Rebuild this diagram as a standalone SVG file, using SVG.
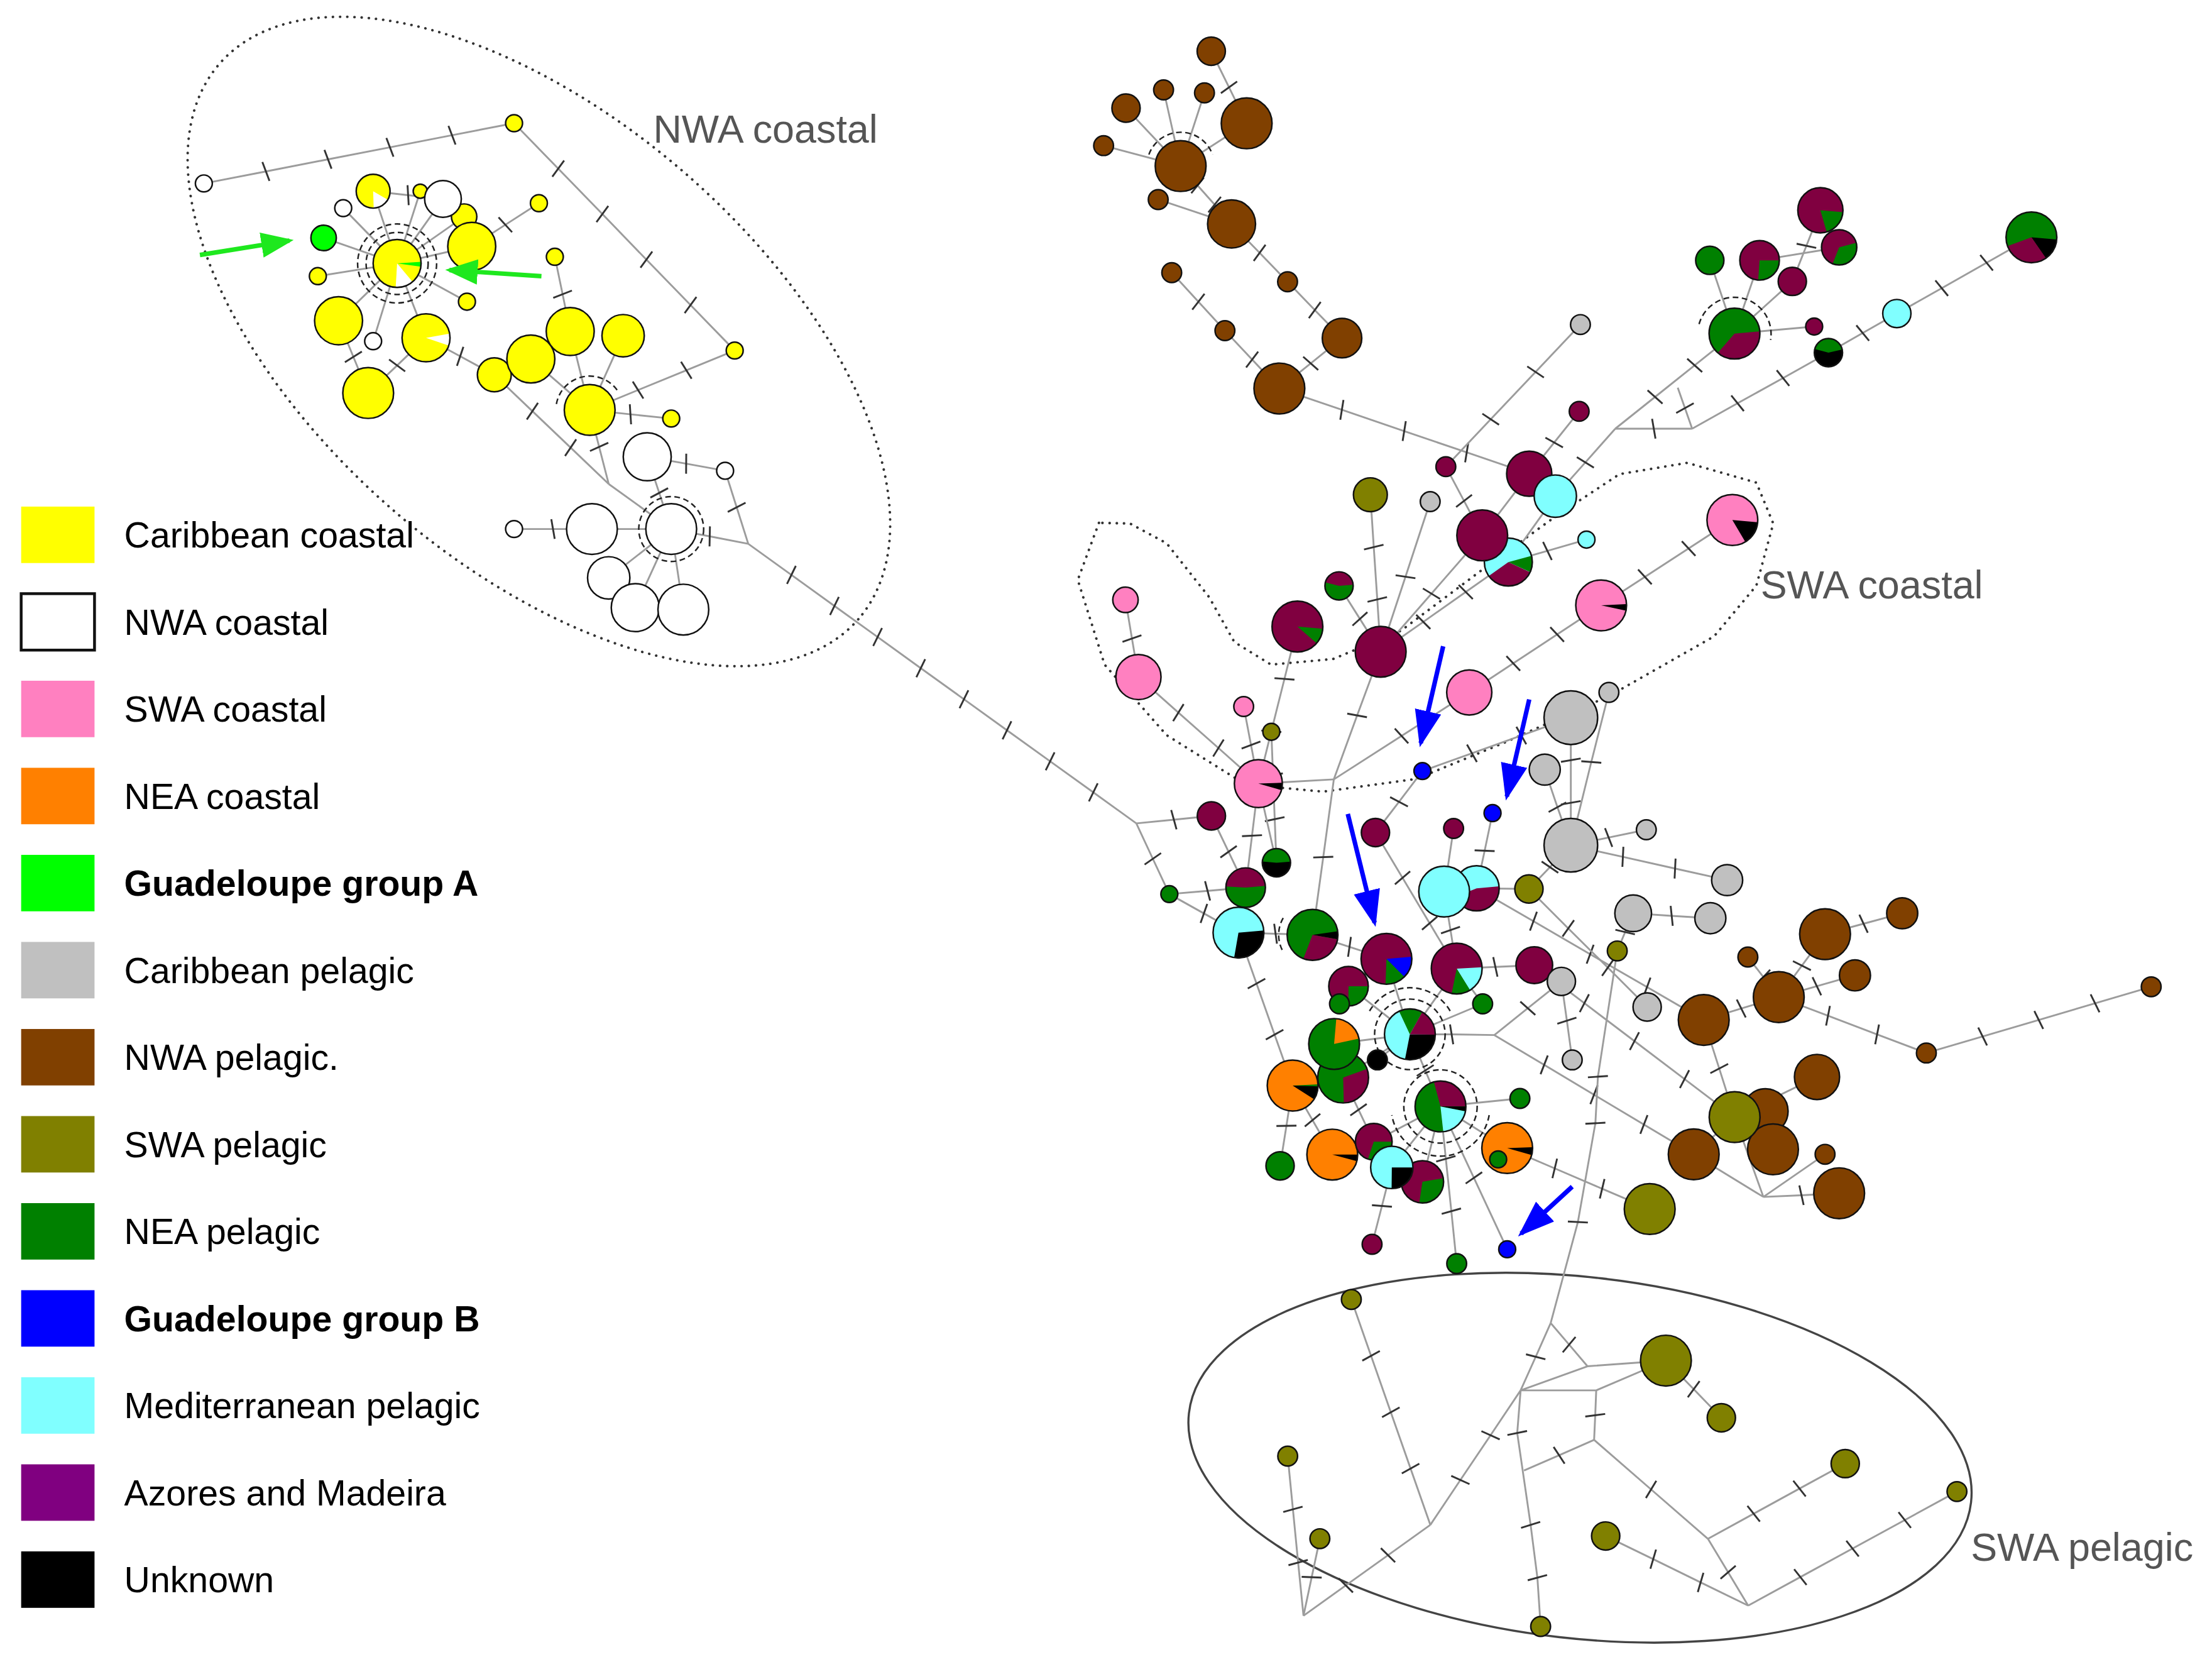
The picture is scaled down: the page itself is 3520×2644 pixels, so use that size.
<svg xmlns="http://www.w3.org/2000/svg" width="3520" height="2644" viewBox="0 0 3520 2644">
<style>
.e{fill:none;stroke:#9c9c9c;stroke-width:1.3;marker-mid:url(#tk)}
.e0{fill:none;stroke:#9c9c9c;stroke-width:1.3}
.n{stroke:#111;stroke-width:1.1}
.o{fill:none;stroke:#111;stroke-width:1.1}
.w{fill:none}
.ring{fill:none;stroke:#222;stroke-width:1.1;stroke-dasharray:4 2.5}
.reg{fill:none;stroke:#333;stroke-width:1.8;stroke-linecap:round;stroke-dasharray:0.1 5}
.Y{fill:#ffff00}.W{fill:#ffffff}.P{fill:#ff80c0}.O{fill:#ff8000}.A{fill:#00ff00}.C{fill:#c0c0c0}.B{fill:#804000}.L{fill:#808000}.G{fill:#008000}.U{fill:#0000ff}.T{fill:#80ffff}.M{fill:#800040}.K{fill:#000000}.AM{fill:#800080}
.sY{stroke:#ffff00}.sW{stroke:#ffffff}.sP{stroke:#ff80c0}.sO{stroke:#ff8000}.sA{stroke:#00ff00}.sG{stroke:#008000}.sU{stroke:#0000ff}.sT{stroke:#80ffff}.sM{stroke:#800040}.sK{stroke:#000000}
.lab{font-family:"Liberation Sans",Arial,sans-serif;font-size:25.5px;fill:#000}
.bold{font-weight:bold}
.rl{font-family:"Liberation Sans",Arial,sans-serif;font-size:28px;fill:#555}
.ga{fill:none;stroke:#1ee81e;stroke-width:3.2;marker-end:url(#ag)}
.ba{fill:none;stroke:#0000ff;stroke-width:3.2;marker-end:url(#ab)}
</style>
<defs>
<marker id="tk" markerUnits="userSpaceOnUse" orient="auto" markerWidth="16" markerHeight="16" viewBox="-8 -8 16 16" refX="0" refY="0"><line x1="-1.2" y1="-7" x2="1.2" y2="7" stroke="#333" stroke-width="1.3"/></marker>
<marker id="ag" markerUnits="userSpaceOnUse" orient="auto" markerWidth="30" markerHeight="24" viewBox="0 -12 30 24" refX="20" refY="0"><path d="M0,-9 L23,0 L0,9Z" fill="#1ee81e"/></marker>
<marker id="ab" markerUnits="userSpaceOnUse" orient="auto" markerWidth="30" markerHeight="24" viewBox="0 -12 30 24" refX="23" refY="0"><path d="M0,-9.5 L26,0 L0,9.5Z" fill="#0000ff"/></marker>
</defs>
<rect width="3520" height="2644" fill="#ffffff"/>
<g transform="scale(2.2449)">

<g id="regions">
<ellipse id="reg-nwa-coastal" class="reg" cx="382" cy="242" rx="300" ry="158" transform="rotate(41 382 242)"/>
<path id="reg-swa-coastal" class="reg" d="M779,370.5 L764,411 L783,471 L827,521 L883,556 L938,561 L1004,552 L1067,526 L1141,493 L1215,451 L1245,415 L1257,371 L1245,342 L1196,328 L1148,336 L1104,365 L1049,405 L993,447 L945,467 L901,471 L875,455 L857,423 L827,385 L801,371 Z"/>
<ellipse id="reg-swa-pelagic" cx="1120" cy="1033" rx="279" ry="128" transform="rotate(6.5 1120 1033)" fill="none" stroke="#444" stroke-width="1.5"/>
<text class="rl" x="463" y="101">NWA coastal</text>
<text class="rl" x="1248" y="424">SWA coastal</text>
<text class="rl" x="1397" y="1106">SWA pelagic</text>
</g>

<g id="connectors">
<path class="e" d="M144.5,130 L188.5,121.5 L232.5,112.9 L276.4,104.4 L320.4,95.8 L364.4,87.3"/>
<path class="e" d="M364.4,87.3 L395.7,119.5 L427,151.7 L458.2,184 L489.5,216.2 L520.8,248.4"/>
<path class="e" d="M520.8,248.4 L486.5,262.4 L452.3,276.4 L418,290.5"/>
<path class="e" d="M418,290.5 L446.9,293.6 L475.8,296.6"/>
<path class="e0" d="M418,290.5 L404.2,234.9 M418,290.5 L441.7,237.9 M418,290.5 L376.3,254.4"/>
<path class="e" d="M418,290.5 L424.7,316.7 L431.5,343"/>
<path class="e" d="M350.4,265.6 L326.2,252.5 L302,239.4"/>
<path class="e" d="M350.4,265.6 L377.4,291.4 L404.5,317.2 L431.5,343"/>
<path class="e0" d="M431.5,343 L475.8,374.9"/>
<path class="e" d="M458.8,323.7 L467.3,349.3 L475.8,374.9"/>
<path class="e" d="M458.8,323.7 L486.4,328.6 L514,333.6"/>
<path class="e" d="M514,333.6 L522.2,359.5 L530.4,385.4"/>
<path class="e" d="M475.8,374.9 L503.1,380.1 L530.4,385.4"/>
<path class="e0" d="M419.6,374.9 L475.8,374.9"/>
<path class="e" d="M364.4,374.9 L392,374.9 L419.6,374.9"/>
<path class="e0" d="M431.5,409.5 L475.8,374.9 M450.3,430.6 L475.8,374.9 M484.4,432 L475.8,374.9"/>
<path class="e" d="M530.4,385.4 L561,407.4 L591.5,429.4 L622.1,451.4 L652.7,473.5 L683.3,495.5 L713.8,517.5 L744.4,539.5 L775,561.5 L805.5,583.5"/>
<path class="e0" d="M281.5,186.7 L229.4,168.6 M281.5,186.7 L243.3,147.5 M281.5,186.7 L264.5,135.5 M281.5,186.7 L297.9,135.5 M281.5,186.7 L314,141 M281.5,186.7 L329,153.5 M281.5,186.7 L334.4,174.6 M281.5,186.7 L225.3,195.7 M281.5,186.7 L331,213.8 M281.5,186.7 L240,227.3 M281.5,186.7 L302,239.4 M281.5,186.7 L264.5,241.8"/>
<path class="e" d="M264.5,135.5 L289.3,138.3 L314,141"/>
<path class="e" d="M382,144 L358.2,159.3 L334.4,174.6"/>
<path class="e" d="M393.3,182 L398.8,208.5 L404.2,234.9"/>
<path class="e" d="M240,227.3 L250.5,252.9 L261,278.5"/>
<path class="e" d="M302,239.4 L281.5,259 L261,278.5"/>

<path class="e" d="M858.6,36.3 L871.2,61.9 L883.7,87.4"/>
<path class="e0" d="M836.9,117.7 L824.8,63.7 M836.9,117.7 L853.8,65.8 M836.9,117.7 L798.2,76.6 M836.9,117.7 L782.3,103.2 M836.9,117.7 L883.7,87.4"/>
<path class="e" d="M836.9,117.7 L848.9,131.4 L861,145 L873,158.7"/>
<path class="e0" d="M821,141.4 L873,158.7"/>
<path class="e" d="M873,158.7 L892.9,179.2 L912.7,199.7"/>
<path class="e" d="M912.7,199.7 L932,219.7 L951.3,239.6"/>
<path class="e" d="M830.6,193.2 L849.5,213.8 L868.3,234.3"/>
<path class="e" d="M868.3,234.3 L887.6,254.8 L906.9,275.3"/>
<path class="e" d="M951.3,239.6 L929.1,257.5 L906.9,275.3"/>
<path class="e" d="M906.9,275.3 L951.2,290.4 L995.4,305.5 L1039.7,320.6 L1084,335.7"/>

<path class="e0" d="M1229.5,236.4 L1212,184.5 M1229.5,236.4 L1247.3,184.5 M1229.5,236.4 L1270.5,199.4 M1229.5,236.4 L1286,231.4"/>
<path class="e" d="M1270.5,199.4 L1280.5,174.2 L1290.4,149"/>
<path class="e0" d="M1247.3,184.5 L1303.7,175.3"/>
<path class="e" d="M1229.5,236.4 L1201.3,258.9 L1173.2,281.3 L1145,303.8"/>
<path class="e" d="M1296.1,249.9 L1263.9,267.9 L1231.7,285.8 L1199.5,303.8"/>
<path class="e" d="M1145,303.8 L1172.3,303.8 L1199.5,303.8"/>
<path class="e" d="M1199.5,303.8 L1194.4,289.2 L1189.3,274.7"/>
<path class="e" d="M1296.1,249.9 L1320.4,236 L1344.6,222.2"/>
<path class="e" d="M1344.6,222.2 L1376.4,204.2 L1408.2,186.2 L1440,168.2"/>
<path class="e" d="M1145,303.8 L1123.8,327.7 L1102.5,351.6"/>

<path class="e" d="M1120.3,230 L1088.5,263.6 L1056.7,297.1 L1024.9,330.7"/>
<path class="e" d="M1119.4,291.5 L1101.7,313.6 L1084,335.7"/>
<path class="e" d="M1024.9,330.7 L1037.8,355 L1050.7,379.4"/>
<path class="e0" d="M1084,335.7 L1050.7,379.4"/>
<path class="e" d="M1050.7,379.4 L1014.7,420.7 L978.7,461.9"/>
<path class="e0" d="M1102.5,351.6 L1069.2,398.3"/>
<path class="e" d="M1069.2,398.3 L1096.9,390.4 L1124.6,382.4"/>
<path class="e" d="M1069.2,398.3 L1039,419.5 L1008.9,440.7 L978.7,461.9"/>
<path class="e" d="M971.4,350.6 L973.8,387.7 L976.3,424.8 L978.7,461.9"/>
<path class="e" d="M1013.8,355.5 L996.3,408.7 L978.7,461.9"/>
<path class="e" d="M949.2,415.2 L964,438.6 L978.7,461.9"/>
<path class="e" d="M919.7,444 L910.5,481.1 L901.2,518.2 L892,555.3"/>
<path class="e" d="M978.7,461.9 L962,507 L945.5,552.3"/>
<path class="e" d="M945.5,552.3 L938,607.4 L930.4,662.5"/>
<path class="e" d="M797.8,425.1 L802.4,452.5 L807,479.8"/>
<path class="e" d="M807,479.8 L835.3,505 L863.7,530.1 L892,555.3"/>
<path class="e" d="M881.6,500.7 L886.8,528 L892,555.3"/>
<path class="e" d="M901.2,518.6 L902.4,549.5 L903.6,580.5 L904.8,611.4"/>
<path class="e0" d="M892,555.3 L945.5,552.3"/>
<path class="e" d="M945.5,552.3 L993.5,521.5 L1041.5,490.7"/>
<path class="e" d="M1041.5,490.7 L1072.7,470.1 L1103.8,449.6 L1135,429"/>
<path class="e" d="M1135,429 L1166,408.8 L1197,388.7 L1228,368.5"/>
<path class="e" d="M1008.3,546.4 L1043.4,533.8 L1078.4,521.2 L1113.5,508.6"/>
<path class="e" d="M1008.3,546.4 L991.7,568.2 L975,590"/>
<path class="e" d="M892,555.3 L887.5,592.2 L883,629"/>
<path class="e0" d="M892,555.3 L904.8,611.4"/>
<path class="e" d="M858.7,578.2 L832.1,580.9 L805.5,583.5"/>
<path class="e" d="M805.5,583.5 L817.2,608.6 L828.9,633.6"/>
<path class="e" d="M828.9,633.6 L856,631.3 L883,629"/>
<path class="e" d="M828.9,633.6 L853.4,647.3 L877.9,660.9"/>
<path class="e" d="M858.7,578.2 L870.9,603.6 L883,629"/>
<path class="e" d="M877.9,660.9 L904.2,661.7 L930.4,662.5"/>
<path class="e" d="M877.9,660.9 L890.7,697 L903.5,733.2 L916.3,769.3"/>
<path class="e" d="M916.3,769.3 L911.9,797.8 L907.4,826.2"/>
<path class="e" d="M1113.5,508.6 L1113.5,538.7 L1113.5,568.9 L1113.5,599"/>
<path class="e" d="M1140.5,490.7 L1128,540 L1113.5,599"/>
<path class="e" d="M1095,545.4 L1104,572 L1113.5,599"/>
<path class="e" d="M1058,576.2 L1052.4,602.9 L1046.7,629.5"/>
<path class="e0" d="M1030.4,587.1 L1023.7,631.8"/>
<path class="e" d="M975,590 L994.2,622.1 L1013.4,654.3 L1032.6,686.4"/>
<path class="e" d="M1113.5,599 L1140.3,593.5 L1167,588"/>
<path class="e" d="M1113.5,599 L1150.4,607.2 L1187.4,615.5 L1224.3,623.7"/>
<path class="e" d="M1113.5,599 L1098.7,614.5 L1083.8,630"/>
<path class="e" d="M1157.7,647.2 L1185,649 L1212.4,650.7"/>
<path class="e" d="M1157.7,647.2 L1152,660.5 L1146.4,673.9"/>
<path class="e" d="M1023.7,631.8 L1028.2,659.1 L1032.6,686.4"/>
<path class="e0" d="M1046.7,629.5 L1083.8,630"/>
<path class="e" d="M1046.7,629.5 L1087,652.8 L1127.2,676.2 L1167.5,699.5 L1207.7,722.8"/>
<path class="e" d="M1087.6,684 L1123.1,710.9 L1158.6,737.8 L1194.1,764.7 L1229.6,791.6"/>
<path class="e" d="M1059.3,733.5 L1094.6,754.6 L1129.9,775.8 L1165.3,796.9 L1200.6,818"/>
<path class="e" d="M999.4,733 L1029,733 L1059.3,733.5"/>
<path class="e" d="M1059.3,733.5 L1083,714.5 L1106.8,695.5"/>
<path class="e" d="M1083.8,630 L1111.7,657.9 L1139.7,685.7 L1167.6,713.6"/>
<path class="e" d="M1032.6,686.4 L1060,685.2 L1087.6,684"/>
<path class="e0" d="M1087.6,684 L1106.8,695.5"/>
<path class="e" d="M1106.8,695.5 L1110.7,723.3 L1114.5,751.1"/>
<path class="e" d="M1146.4,673.9 L1132.7,763 L1130.9,796 L1118.5,866 L1099.2,937.6"/>
<path class="e" d="M1068.4,813.6 L1102.1,828 L1135.7,842.4 L1169.4,856.8"/>

<path class="e" d="M1207.7,722.8 L1218.7,757.2 L1229.6,791.6"/>
<path class="e" d="M1207.7,722.8 L1234.3,714.7 L1260.9,706.6"/>
<path class="e" d="M1260.9,706.6 L1250,692.4 L1239,678.2"/>
<path class="e" d="M1260.9,706.6 L1277.3,684.3 L1293.7,662"/>
<path class="e" d="M1293.7,662 L1321,654.6 L1348.4,647.2"/>
<path class="e" d="M1260.9,706.6 L1287.9,698.9 L1314.9,691.2"/>
<path class="e" d="M1260.9,706.6 L1295.8,719.8 L1330.6,733 L1365.5,746.2"/>
<path class="e" d="M1365.5,746.2 L1405.4,734.5 L1445.2,722.8 L1485.1,711 L1524.9,699.3"/>
<path class="e" d="M1288,763.2 L1258.8,777.4 L1229.6,791.6"/>
<path class="e0" d="M1229.6,791.6 L1256.8,814.5 M1229.6,791.6 L1200.6,818 M1229.6,791.6 L1250,848.2 M1200.6,818 L1250,848.2 M1250,848.2 L1293.7,818"/>
<path class="e" d="M1250,848.2 L1277,847 L1303.7,845.6"/>

<path class="e" d="M930.4,662.5 L956.6,671 L982.8,679.5"/>
<path class="e0" d="M982.8,679.5 L999.4,733 M955.9,698.9 L999.4,733 M1032.6,686.4 L999.4,733 M945.7,739.8 L999.4,733 M976.4,751.1 L999.4,733 M952.1,763.6 L999.4,733 M1051,711.4 L999.4,733 M1051,711.4 L1032.6,686.4 M982.8,679.5 L955.9,698.9"/>
<path class="e" d="M999.4,733 L1010.3,758.6 L1021.1,784.1"/>
<path class="e" d="M952.1,763.6 L963,786.4 L973.8,809.1"/>
<path class="e" d="M916.3,769.3 L930.4,793.8 L944.4,818.2"/>
<path class="e0" d="M1021.1,784.1 L1068.4,813.6 M1021.1,784.1 L1077.4,778.4 M1021.1,784.1 L1008.3,837.5 M1021.1,784.1 L986.6,827.3 M1021.1,784.1 L973.8,809.1 M944.4,818.2 L973.8,809.1"/>
<path class="e" d="M1021.1,784.1 L1024.9,821.2 L1028.8,858.3 L1032.6,895.5"/>
<path class="e" d="M1021.1,784.1 L1044.8,834.7 L1068.4,885.3"/>
<path class="e" d="M986.6,827.3 L979.6,854.6 L972.6,881.8"/>

<path class="e" d="M1099.2,937.6 L1088.6,961.5 L1077.9,985.3"/>
<path class="e" d="M1099.2,937.6 L1112.3,952.9 L1125.3,968.2"/>
<path class="e0" d="M1125.3,968.2 L1180.9,964.2 M1077.9,985.3 L1125.3,968.2 M1077.9,985.3 L1131.5,985.3 M1131.5,985.3 L1180.9,964.2"/>
<path class="e" d="M1180.9,964.2 L1200.6,984.5 L1220.2,1004.7"/>
<path class="e" d="M1077.9,985.3 L1075.5,1015.5 L1085,1080.6 L1089.8,1118 L1092.1,1152.6"/>
<path class="e" d="M1077.9,985.3 L1056.6,1017.1 L1035.2,1048.8 L1013.9,1080.6"/>
<path class="e" d="M1013.9,1080.6 L983.9,1102.1 L954,1123.5 L924,1145"/>
<path class="e" d="M957.9,920.9 L971.9,960.8 L985.9,1000.8 L999.9,1040.7 L1013.9,1080.6"/>
<path class="e" d="M912.8,1031.9 L916.5,1069.6 L920.2,1107.3 L924,1145"/>
<path class="e" d="M935.6,1090.4 L929.8,1117.7 L924,1145"/>
<path class="e" d="M1131.5,985.3 L1130.8,1002.9 L1130,1020.4"/>
<path class="e" d="M1130,1020.4 L1105.2,1031.3 L1080.3,1042.1"/>
<path class="e" d="M1130,1020.4 L1170.4,1055.5 L1210.7,1090.5"/>
<path class="e" d="M1210.7,1090.5 L1243.1,1072.7 L1275.6,1054.9 L1308,1037.2"/>
<path class="e" d="M1210.7,1090.5 L1225,1114.2 L1239.2,1137.8"/>
<path class="e" d="M1239.2,1137.8 L1276.2,1117.6 L1313.2,1097.4 L1350.2,1077.2 L1387.2,1057"/>
<path class="e" d="M1138.2,1088.5 L1171.9,1104.9 L1205.5,1121.4 L1239.2,1137.8"/>
</g>

<g id="rings">
<circle class="ring" cx="281.5" cy="186.7" r="22"/>
<circle class="ring" cx="281.5" cy="186.7" r="28"/>
<path class="ring" d="M394.4,286.3 A24,24 0 0 1 438.8,278.5"/>
<circle class="ring" cx="475.8" cy="374.9" r="23"/>
<path class="ring" d="M814.4,109.5 A24,24 0 0 1 859.5,109.5"/>
<path class="ring" d="M1204.4,229.7 A26,26 0 0 1 1255.1,240.9"/>
<circle class="ring" cx="999.4" cy="733" r="25"/>
<path class="ring" d="M970.8,716.5 A33,33 0 0 1 1028,716.5"/>
<circle class="ring" cx="1021.1" cy="784.1" r="26"/>
<path class="ring" d="M1055.6,790.2 A35,35 0 0 1 986.6,790.2"/>
<path class="ring" d="M909.6,650.5 A24,24 0 0 0 909.6,674.5"/>
</g>

<g id="nodes">
<g id="n1"><circle class="n W" cx="144.5" cy="130" r="6"/></g>
<g id="n2"><circle class="n Y" cx="364.4" cy="87.3" r="6"/></g>
<g id="n3"><circle class="n Y" cx="520.8" cy="248.4" r="6"/></g>
<g id="n10"><circle class="n W" cx="243.3" cy="147.5" r="6"/></g>
<g id="n11"><circle class="n A" cx="229.4" cy="168.6" r="9"/></g>
<g id="n12"><circle class="n Y" cx="225.3" cy="195.7" r="6"/></g>
<g id="n5"><circle class="Y" cx="264.5" cy="135.5" r="12"/><circle class="w sW" cx="264.5" cy="135.5" r="6" stroke-width="12" stroke-dasharray="6.03 999" transform="rotate(30 264.5 135.5)"/><circle class="o" cx="264.5" cy="135.5" r="12"/></g>
<g id="n6"><circle class="n Y" cx="297.9" cy="135.5" r="5"/></g>
<g id="n8"><circle class="n Y" cx="329" cy="153.5" r="9"/></g>
<g id="n7"><circle class="n W" cx="314" cy="141" r="13"/></g>
<g id="n9"><circle class="n Y" cx="334.4" cy="174.6" r="17"/></g>
<g id="n13"><circle class="n Y" cx="331" cy="213.8" r="6"/></g>
<g id="n14"><circle class="n Y" cx="382" cy="144" r="6"/></g>
<g id="n15"><circle class="n Y" cx="393.3" cy="182" r="6"/></g>
<g id="n4"><circle class="Y" cx="281.5" cy="186.7" r="17"/><circle class="w sA" cx="281.5" cy="186.7" r="8.5" stroke-width="17" stroke-dasharray="1.8 999" transform="rotate(-4 281.5 186.7)"/><circle class="w sW" cx="281.5" cy="186.7" r="8.5" stroke-width="17" stroke-dasharray="6.41 999" transform="rotate(50 281.5 186.7)"/><circle class="o" cx="281.5" cy="186.7" r="17"/></g>
<g id="n16"><circle class="n Y" cx="240" cy="227.3" r="17"/></g>
<g id="n17"><circle class="n W" cx="264.5" cy="241.8" r="6"/></g>
<g id="n18"><circle class="Y" cx="302" cy="239.4" r="17"/><circle class="w sW" cx="302" cy="239.4" r="8.5" stroke-width="17" stroke-dasharray="4.27 999" transform="rotate(-10 302 239.4)"/><circle class="o" cx="302" cy="239.4" r="17"/></g>
<g id="n19"><circle class="n Y" cx="261" cy="278.5" r="18"/></g>
<g id="n20"><circle class="n Y" cx="350.4" cy="265.6" r="12"/></g>
<g id="n21"><circle class="n Y" cx="376.3" cy="254.4" r="17"/></g>
<g id="n22"><circle class="n Y" cx="404.2" cy="234.9" r="17"/></g>
<g id="n23"><circle class="n Y" cx="441.7" cy="237.9" r="15"/></g>
<g id="n24"><circle class="n Y" cx="418" cy="290.5" r="18"/></g>
<g id="n25"><circle class="n Y" cx="475.8" cy="296.6" r="6"/></g>
<g id="n26"><circle class="n W" cx="458.8" cy="323.7" r="17"/></g>
<g id="n27"><circle class="n W" cx="514" cy="333.6" r="6"/></g>
<g id="n29"><circle class="n W" cx="419.6" cy="374.9" r="18"/></g>
<g id="n28"><circle class="n W" cx="475.8" cy="374.9" r="18"/></g>
<g id="n30"><circle class="n W" cx="364.4" cy="374.9" r="6"/></g>
<g id="n31"><circle class="n W" cx="431.5" cy="409.5" r="15"/></g>
<g id="n32"><circle class="n W" cx="450.3" cy="430.6" r="17"/></g>
<g id="n33"><circle class="n W" cx="484.4" cy="432" r="18"/></g>

<g id="b1"><circle class="n B" cx="858.6" cy="36.3" r="10"/></g>
<g id="b2"><circle class="n B" cx="824.8" cy="63.7" r="7"/></g>
<g id="b3"><circle class="n B" cx="853.8" cy="65.8" r="7"/></g>
<g id="b4"><circle class="n B" cx="798.2" cy="76.6" r="10"/></g>
<g id="b5"><circle class="n B" cx="883.7" cy="87.4" r="18"/></g>
<g id="b6"><circle class="n B" cx="782.3" cy="103.2" r="7"/></g>
<g id="b7"><circle class="n B" cx="836.9" cy="117.7" r="18"/></g>
<g id="b8"><circle class="n B" cx="821" cy="141.4" r="7"/></g>
<g id="b9"><circle class="n B" cx="873" cy="158.7" r="17"/></g>
<g id="b10"><circle class="n B" cx="830.6" cy="193.2" r="7"/></g>
<g id="b11"><circle class="n B" cx="912.7" cy="199.7" r="7"/></g>
<g id="b12"><circle class="n B" cx="868.3" cy="234.3" r="7"/></g>
<g id="b13"><circle class="n B" cx="951.3" cy="239.6" r="14"/></g>
<g id="b14"><circle class="n B" cx="906.9" cy="275.3" r="18"/></g>

<g id="t1"><circle class="M" cx="1290.4" cy="149" r="16"/><circle class="w sG" cx="1290.4" cy="149" r="8" stroke-width="16" stroke-dasharray="9.55 999" transform="rotate(5 1290.4 149)"/><circle class="o" cx="1290.4" cy="149" r="16"/></g>
<g id="t2"><circle class="M" cx="1303.7" cy="175.3" r="12.5"/><circle class="w sG" cx="1303.7" cy="175.3" r="6.25" stroke-width="12.5" stroke-dasharray="13.74 999" transform="rotate(-15 1303.7 175.3)"/><circle class="o" cx="1303.7" cy="175.3" r="12.5"/></g>
<g id="t3"><circle class="n G" cx="1212" cy="184.5" r="10"/></g>
<g id="t4"><circle class="M" cx="1247.3" cy="184.5" r="14"/><circle class="w sG" cx="1247.3" cy="184.5" r="7" stroke-width="14" stroke-dasharray="11.44 999" transform="rotate(0 1247.3 184.5)"/><circle class="o" cx="1247.3" cy="184.5" r="14"/></g>
<g id="t5"><circle class="n M" cx="1270.5" cy="199.4" r="10"/></g>
<g id="t6"><circle class="G" cx="1229.5" cy="236.4" r="18"/><circle class="w sM" cx="1229.5" cy="236.4" r="9" stroke-width="18" stroke-dasharray="21.2 999" transform="rotate(-5 1229.5 236.4)"/><circle class="o" cx="1229.5" cy="236.4" r="18"/></g>
<g id="t7"><circle class="n M" cx="1286" cy="231.4" r="6"/></g>
<g id="t8"><circle class="K" cx="1296.1" cy="249.9" r="10"/><circle class="w sG" cx="1296.1" cy="249.9" r="5" stroke-width="10" stroke-dasharray="13.2 999" transform="rotate(195 1296.1 249.9)"/><circle class="o" cx="1296.1" cy="249.9" r="10"/></g>
<g id="t9"><circle class="n T" cx="1344.6" cy="222.2" r="10"/></g>
<g id="t10"><circle class="G" cx="1440" cy="168.2" r="18"/><circle class="w sK" cx="1440" cy="168.2" r="9" stroke-width="18" stroke-dasharray="7.92 999" transform="rotate(5 1440 168.2)"/><circle class="w sM" cx="1440" cy="168.2" r="9" stroke-width="18" stroke-dasharray="16.4 999" transform="rotate(55 1440 168.2)"/><circle class="o" cx="1440" cy="168.2" r="18"/></g>

<g id="g1"><circle class="n C" cx="1120.3" cy="230" r="7"/></g>
<g id="m30"><circle class="n M" cx="1119.4" cy="291.5" r="7"/></g>
<g id="m1"><circle class="n M" cx="1024.9" cy="330.7" r="7"/></g>
<g id="m2"><circle class="n M" cx="1084" cy="335.7" r="16"/></g>
<g id="m3"><circle class="n T" cx="1102.5" cy="351.6" r="15"/></g>
<g id="m4"><circle class="n L" cx="971.4" cy="350.6" r="12"/></g>
<g id="m5"><circle class="n C" cx="1013.8" cy="355.5" r="7"/></g>
<g id="m7"><circle class="T" cx="1069.2" cy="398.3" r="17"/><circle class="w sG" cx="1069.2" cy="398.3" r="8.5" stroke-width="17" stroke-dasharray="5.87 999" transform="rotate(-15 1069.2 398.3)"/><circle class="w sM" cx="1069.2" cy="398.3" r="8.5" stroke-width="17" stroke-dasharray="17.62 999" transform="rotate(25 1069.2 398.3)"/><circle class="o" cx="1069.2" cy="398.3" r="17"/></g>
<g id="m6"><circle class="n M" cx="1050.7" cy="379.4" r="18"/></g>
<g id="m8"><circle class="n T" cx="1124.6" cy="382.4" r="6"/></g>
<g id="m9"><circle class="P" cx="1228" cy="368.5" r="18"/><circle class="w sK" cx="1228" cy="368.5" r="9" stroke-width="18" stroke-dasharray="8.48 999" transform="rotate(5 1228 368.5)"/><circle class="o" cx="1228" cy="368.5" r="18"/></g>
<g id="m10"><circle class="P" cx="1135" cy="429" r="18"/><circle class="w sK" cx="1135" cy="429" r="9" stroke-width="18" stroke-dasharray="2.4 999" transform="rotate(-3 1135 429)"/><circle class="o" cx="1135" cy="429" r="18"/></g>
<g id="m11"><circle class="M" cx="949.2" cy="415.2" r="10"/><circle class="w sG" cx="949.2" cy="415.2" r="5" stroke-width="10" stroke-dasharray="17.28 999" transform="rotate(-5 949.2 415.2)"/><circle class="o" cx="949.2" cy="415.2" r="10"/></g>
<g id="m12"><circle class="M" cx="919.7" cy="444" r="18"/><circle class="w sG" cx="919.7" cy="444" r="9" stroke-width="18" stroke-dasharray="5.65 999" transform="rotate(5 919.7 444)"/><circle class="o" cx="919.7" cy="444" r="18"/></g>
<g id="m13"><circle class="n M" cx="978.7" cy="461.9" r="18"/></g>
<g id="m14"><circle class="n P" cx="1041.5" cy="490.7" r="16"/></g>
<g id="m15"><circle class="n P" cx="797.8" cy="425.1" r="9"/></g>
<g id="m16"><circle class="n P" cx="807" cy="479.8" r="16"/></g>
<g id="m17"><circle class="n P" cx="881.6" cy="500.7" r="7"/></g>
<g id="m18"><circle class="n L" cx="901.2" cy="518.6" r="6"/></g>
<g id="m19"><circle class="P" cx="892" cy="555.3" r="17"/><circle class="w sK" cx="892" cy="555.3" r="8.5" stroke-width="17" stroke-dasharray="2.67 999" transform="rotate(-2 892 555.3)"/><circle class="o" cx="892" cy="555.3" r="17"/></g>
<g id="m20"><circle class="n U" cx="1008.3" cy="546.4" r="6"/></g>
<g id="m21"><circle class="n C" cx="1113.5" cy="508.6" r="19"/></g>
<g id="m22"><circle class="n C" cx="1140.5" cy="490.7" r="7"/></g>
<g id="m23"><circle class="n C" cx="1095" cy="545.4" r="11"/></g>
<g id="m24"><circle class="n U" cx="1058" cy="576.2" r="6"/></g>
<g id="m25"><circle class="n C" cx="1113.5" cy="599" r="19"/></g>
<g id="m26"><circle class="n C" cx="1167" cy="588" r="7"/></g>
<g id="m27"><circle class="n M" cx="858.7" cy="578.2" r="10"/></g>
<g id="m28"><circle class="n M" cx="975" cy="590" r="10"/></g>
<g id="m29"><circle class="n M" cx="1030.4" cy="587.1" r="7"/></g>

<g id="c1"><circle class="K" cx="904.8" cy="611.4" r="10"/><circle class="w sG" cx="904.8" cy="611.4" r="5" stroke-width="10" stroke-dasharray="14.77 999" transform="rotate(185 904.8 611.4)"/><circle class="o" cx="904.8" cy="611.4" r="10"/></g>
<g id="c2"><circle class="M" cx="883" cy="629" r="14"/><circle class="w sG" cx="883" cy="629" r="7" stroke-width="14" stroke-dasharray="22.87 999" transform="rotate(-5 883 629)"/><circle class="o" cx="883" cy="629" r="14"/></g>
<g id="c3"><circle class="n G" cx="828.9" cy="633.6" r="6"/></g>
<g id="c4"><circle class="T" cx="877.9" cy="660.9" r="18"/><circle class="w sK" cx="877.9" cy="660.9" r="9" stroke-width="18" stroke-dasharray="16.4 999" transform="rotate(-5 877.9 660.9)"/><circle class="o" cx="877.9" cy="660.9" r="18"/></g>
<g id="c5"><circle class="G" cx="930.4" cy="662.5" r="18"/><circle class="w sK" cx="930.4" cy="662.5" r="9" stroke-width="18" stroke-dasharray="2.83 999" transform="rotate(-8 930.4 662.5)"/><circle class="w sM" cx="930.4" cy="662.5" r="9" stroke-width="18" stroke-dasharray="15.83 999" transform="rotate(10 930.4 662.5)"/><circle class="o" cx="930.4" cy="662.5" r="18"/></g>
<g id="c7"><circle class="T" cx="1046.7" cy="629.5" r="16"/><circle class="w sM" cx="1046.7" cy="629.5" r="8" stroke-width="16" stroke-dasharray="22.62 999" transform="rotate(-5 1046.7 629.5)"/><circle class="o" cx="1046.7" cy="629.5" r="16"/></g>
<g id="c6"><circle class="n T" cx="1023.7" cy="631.8" r="18"/></g>
<g id="c8"><circle class="n L" cx="1083.8" cy="630" r="10"/></g>
<g id="c9"><circle class="M" cx="982.8" cy="679.5" r="18"/><circle class="w sU" cx="982.8" cy="679.5" r="9" stroke-width="18" stroke-dasharray="7.92 999" transform="rotate(-5 982.8 679.5)"/><circle class="w sG" cx="982.8" cy="679.5" r="9" stroke-width="18" stroke-dasharray="7.35 999" transform="rotate(45 982.8 679.5)"/><circle class="o" cx="982.8" cy="679.5" r="18"/></g>
<g id="c10"><circle class="M" cx="1032.6" cy="686.4" r="18"/><circle class="w sT" cx="1032.6" cy="686.4" r="9" stroke-width="18" stroke-dasharray="9.61 999" transform="rotate(-3 1032.6 686.4)"/><circle class="w sG" cx="1032.6" cy="686.4" r="9" stroke-width="18" stroke-dasharray="6.79 999" transform="rotate(58 1032.6 686.4)"/><circle class="o" cx="1032.6" cy="686.4" r="18"/></g>
<g id="c11"><circle class="n M" cx="1087.6" cy="684" r="13"/></g>
<g id="c12"><circle class="n C" cx="1106.8" cy="695.5" r="10"/></g>
<g id="c13"><circle class="n L" cx="1146.4" cy="673.9" r="7"/></g>
<g id="c14"><circle class="n C" cx="1167.6" cy="713.6" r="10"/></g>
<g id="c15"><circle class="M" cx="955.9" cy="698.9" r="14"/><circle class="w sG" cx="955.9" cy="698.9" r="7" stroke-width="14" stroke-dasharray="11 999" transform="rotate(0 955.9 698.9)"/><circle class="o" cx="955.9" cy="698.9" r="14"/></g>
<g id="c16"><circle class="n G" cx="949.5" cy="711.4" r="7"/></g>
<g id="c17"><circle class="n G" cx="1051" cy="711.4" r="7"/></g>
<g id="c18"><circle class="T" cx="999.4" cy="733" r="18"/><circle class="w sK" cx="999.4" cy="733" r="9" stroke-width="18" stroke-dasharray="15.83 999" transform="rotate(0 999.4 733)"/><circle class="w sG" cx="999.4" cy="733" r="9" stroke-width="18" stroke-dasharray="8.48 999" transform="rotate(245 999.4 733)"/><circle class="w sM" cx="999.4" cy="733" r="9" stroke-width="18" stroke-dasharray="9.61 999" transform="rotate(299 999.4 733)"/><circle class="o" cx="999.4" cy="733" r="18"/></g>
<g id="c21"><circle class="G" cx="952.1" cy="763.6" r="18"/><circle class="w sM" cx="952.1" cy="763.6" r="9" stroke-width="18" stroke-dasharray="16.96 999" transform="rotate(-20 952.1 763.6)"/><circle class="o" cx="952.1" cy="763.6" r="18"/></g>
<g id="c19"><circle class="G" cx="945.7" cy="739.8" r="18"/><circle class="w sO" cx="945.7" cy="739.8" r="9" stroke-width="18" stroke-dasharray="11.31 999" transform="rotate(-85 945.7 739.8)"/><circle class="o" cx="945.7" cy="739.8" r="18"/></g>
<g id="c20"><circle class="n K" cx="976.4" cy="751.1" r="7"/></g>
<g id="c22"><circle class="O" cx="916.3" cy="769.3" r="18"/><circle class="w sK" cx="916.3" cy="769.3" r="9" stroke-width="18" stroke-dasharray="5.09 999" transform="rotate(0 916.3 769.3)"/><circle class="w sG" cx="916.3" cy="769.3" r="9" stroke-width="18" stroke-dasharray="0.8 999" transform="rotate(-3 916.3 769.3)"/><circle class="o" cx="916.3" cy="769.3" r="18"/></g>
<g id="c23"><circle class="n C" cx="1114.5" cy="751.1" r="7"/></g>
<g id="c24"><circle class="G" cx="1021.1" cy="784.1" r="18"/><circle class="w sM" cx="1021.1" cy="784.1" r="9" stroke-width="18" stroke-dasharray="16.4 999" transform="rotate(-105 1021.1 784.1)"/><circle class="w sK" cx="1021.1" cy="784.1" r="9" stroke-width="18" stroke-dasharray="1.7 999" transform="rotate(0 1021.1 784.1)"/><circle class="w sT" cx="1021.1" cy="784.1" r="9" stroke-width="18" stroke-dasharray="11.31 999" transform="rotate(11 1021.1 784.1)"/><circle class="o" cx="1021.1" cy="784.1" r="18"/></g>
<g id="c25"><circle class="n G" cx="1077.4" cy="778.4" r="7"/></g>
<g id="c26"><circle class="O" cx="944.4" cy="818.2" r="18"/><circle class="w sK" cx="944.4" cy="818.2" r="9" stroke-width="18" stroke-dasharray="2.4 999" transform="rotate(0 944.4 818.2)"/><circle class="o" cx="944.4" cy="818.2" r="18"/></g>
<g id="c27"><circle class="n G" cx="907.4" cy="826.2" r="10"/></g>
<g id="c28"><circle class="M" cx="973.8" cy="809.1" r="13"/><circle class="w sG" cx="973.8" cy="809.1" r="6.5" stroke-width="13" stroke-dasharray="12.25 999" transform="rotate(0 973.8 809.1)"/><circle class="o" cx="973.8" cy="809.1" r="13"/></g>
<g id="c30"><circle class="M" cx="1008.3" cy="837.5" r="15"/><circle class="w sG" cx="1008.3" cy="837.5" r="7.5" stroke-width="15" stroke-dasharray="14.14 999" transform="rotate(-10 1008.3 837.5)"/><circle class="o" cx="1008.3" cy="837.5" r="15"/></g>
<g id="c29"><circle class="T" cx="986.6" cy="827.3" r="15"/><circle class="w sK" cx="986.6" cy="827.3" r="7.5" stroke-width="15" stroke-dasharray="11.78 999" transform="rotate(0 986.6 827.3)"/><circle class="o" cx="986.6" cy="827.3" r="15"/></g>
<g id="c31"><circle class="O" cx="1068.4" cy="813.6" r="18"/><circle class="w sK" cx="1068.4" cy="813.6" r="9" stroke-width="18" stroke-dasharray="2.83 999" transform="rotate(-2 1068.4 813.6)"/><circle class="o" cx="1068.4" cy="813.6" r="18"/></g>
<g id="c32"><circle class="n G" cx="1062" cy="821.6" r="6"/></g>
<g id="c33"><circle class="n M" cx="972.6" cy="881.8" r="7"/></g>
<g id="c34"><circle class="n U" cx="1068.4" cy="885.3" r="6"/></g>
<g id="c35"><circle class="n G" cx="1032.6" cy="895.5" r="7"/></g>
<g id="c36"><circle class="n L" cx="1169.4" cy="856.8" r="18"/></g>

<g id="r1"><circle class="n C" cx="1224.3" cy="623.7" r="11"/></g>
<g id="r2"><circle class="n C" cx="1157.7" cy="647.2" r="13"/></g>
<g id="r3"><circle class="n C" cx="1212.4" cy="650.7" r="11"/></g>
<g id="r4"><circle class="n B" cx="1207.7" cy="722.8" r="18"/></g>
<g id="r5"><circle class="n B" cx="1239" cy="678.2" r="7"/></g>
<g id="r6"><circle class="n B" cx="1260.9" cy="706.6" r="18"/></g>
<g id="r7"><circle class="n B" cx="1293.7" cy="662" r="18"/></g>
<g id="r8"><circle class="n B" cx="1348.4" cy="647.2" r="11"/></g>
<g id="r9"><circle class="n B" cx="1314.9" cy="691.2" r="11"/></g>
<g id="r10"><circle class="n B" cx="1365.5" cy="746.2" r="7"/></g>
<g id="r11"><circle class="n B" cx="1524.9" cy="699.3" r="7"/></g>
<g id="r12"><circle class="n B" cx="1288" cy="763.2" r="16"/></g>
<g id="r13"><circle class="n B" cx="1251.5" cy="787.5" r="16"/></g>
<g id="r15"><circle class="n B" cx="1256.8" cy="814.5" r="18"/></g>
<g id="r16"><circle class="n B" cx="1200.6" cy="818" r="18"/></g>
<g id="r14"><circle class="n L" cx="1229.6" cy="791.6" r="18"/></g>
<g id="r17"><circle class="n B" cx="1293.7" cy="818" r="7"/></g>
<g id="r18"><circle class="n B" cx="1303.7" cy="845.6" r="18"/></g>

<g id="s1"><circle class="n L" cx="957.9" cy="920.9" r="7"/></g>
<g id="s2"><circle class="n L" cx="1180.9" cy="964.2" r="18"/></g>
<g id="s3"><circle class="n L" cx="1220.2" cy="1004.7" r="10"/></g>
<g id="s4"><circle class="n L" cx="912.8" cy="1031.9" r="7"/></g>
<g id="s5"><circle class="n L" cx="1308" cy="1037.2" r="10"/></g>
<g id="s6"><circle class="n L" cx="1387.2" cy="1057" r="7"/></g>
<g id="s7"><circle class="n L" cx="935.6" cy="1090.4" r="7"/></g>
<g id="s8"><circle class="n L" cx="1138.2" cy="1088.5" r="10"/></g>
<g id="s9"><circle class="n L" cx="1092.1" cy="1152.6" r="7"/></g>
</g>

<g id="arrows">
<path class="ga" d="M141.7,180.7 L205.2,170.5"/>
<path class="ga" d="M383.8,195.7 L318.6,191.4"/>
<path class="ba" d="M1023,458 L1007.1,526.6"/>
<path class="ba" d="M1084,495.7 L1068.1,564.4"/>
<path class="ba" d="M955.4,576.8 L974.4,653.9"/>
<path class="ba" d="M1114.5,840.9 L1078.3,874.2"/>
</g>

<g id="legend">
<rect class="Y" x="15" y="359" width="52" height="40"/>
<text class="lab" x="88" y="388">Caribbean coastal</text>
<rect class="W" x="15" y="420.7" width="52" height="40" stroke="#111" stroke-width="2"/>
<text class="lab" x="88" y="449.7">NWA coastal</text>
<rect class="P" x="15" y="482.4" width="52" height="40"/>
<text class="lab" x="88" y="511.4">SWA coastal</text>
<rect class="O" x="15" y="544.1" width="52" height="40"/>
<text class="lab" x="88" y="573.1">NEA coastal</text>
<rect class="A" x="15" y="605.8" width="52" height="40"/>
<text class="lab bold" x="88" y="634.8">Guadeloupe group A</text>
<rect class="C" x="15" y="667.5" width="52" height="40"/>
<text class="lab" x="88" y="696.5">Caribbean pelagic</text>
<rect class="B" x="15" y="729.2" width="52" height="40"/>
<text class="lab" x="88" y="758.2">NWA pelagic.</text>
<rect class="L" x="15" y="790.9" width="52" height="40"/>
<text class="lab" x="88" y="819.9">SWA pelagic</text>
<rect class="G" x="15" y="852.6" width="52" height="40"/>
<text class="lab" x="88" y="881.6">NEA pelagic</text>
<rect class="U" x="15" y="914.3" width="52" height="40"/>
<text class="lab bold" x="88" y="943.3">Guadeloupe group B</text>
<rect class="T" x="15" y="976" width="52" height="40"/>
<text class="lab" x="88" y="1005">Mediterranean pelagic</text>
<rect class="AM" x="15" y="1037.7" width="52" height="40"/>
<text class="lab" x="88" y="1066.7">Azores and Madeira</text>
<rect class="K" x="15" y="1099.4" width="52" height="40"/>
<text class="lab" x="88" y="1128.4">Unknown</text>
</g>

</g>
</svg>
